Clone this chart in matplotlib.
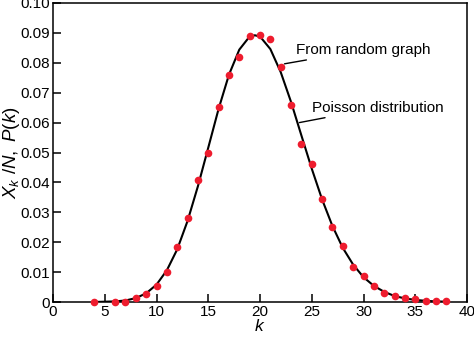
import matplotlib
matplotlib.use("Agg")
import matplotlib.pyplot as plt

plt.rcParams['font.family'] = ['Liberation Sans', 'DejaVu Sans']
plt.rcParams['mathtext.fontset'] = 'custom'
plt.rcParams['mathtext.rm'] = 'Liberation Sans'
plt.rcParams['mathtext.it'] = 'Liberation Sans:italic'

# simulated degree fractions X_k/N from the random graph
k_sim = [4, 6, 7, 8, 9, 10, 11, 12, 13, 14, 15, 16, 17, 18, 19, 20, 21,
         22, 23, 24, 25, 26, 27, 28, 29, 30, 31, 32, 33, 34, 35, 36, 37, 38]
x_sim = [0.0001, 0.0001, 0.0001, 0.0014, 0.0028, 0.0054, 0.0100, 0.0185,
         0.0281, 0.0408, 0.0500, 0.0652, 0.0759, 0.0820, 0.0891, 0.0894,
         0.0879, 0.0787, 0.0659, 0.0529, 0.0460, 0.0346, 0.0252, 0.0187,
         0.0118, 0.0088, 0.0054, 0.0031, 0.0020, 0.0012, 0.0009, 0.0003,
         0.0003, 0.0003]

# Poisson P(k), mean 20
k_pois = [4, 5, 6, 7, 8, 9, 10, 11, 12, 13, 14, 15, 16, 17, 18, 19, 19.5,
          20, 21, 22, 23, 24, 25, 26, 27, 28, 29, 30, 31, 32, 33, 34, 35,
          36, 37, 38]
p_pois = [0.0000, 0.0001, 0.0002, 0.0005, 0.0013, 0.0029, 0.0058, 0.0106,
          0.0176, 0.0271, 0.0387, 0.0516, 0.0646, 0.0760, 0.0844, 0.0888,
          0.0892, 0.0888, 0.0846, 0.0769, 0.0669, 0.0557, 0.0446, 0.0343,
          0.0254, 0.0181, 0.0125, 0.0083, 0.0054, 0.0034, 0.0020, 0.0012,
          0.0007, 0.0004, 0.0002, 0.0001]

x_ticks = [0, 5, 10, 15, 20, 25, 30, 35, 40]
y_ticks = [0, 0.01, 0.02, 0.03, 0.04, 0.05, 0.06, 0.07, 0.08, 0.09, 0.10]
y_labels = ['0', '0.01', '0.02', '0.03', '0.04', '0.05', '0.06', '0.07',
            '0.08', '0.09', '0.10']

fig = plt.figure(figsize=(4.74, 3.39), dpi=100)
ax = fig.add_axes([53 / 474, 37 / 339, 414 / 474, 299 / 339])

ax.plot(k_pois, p_pois, color='black', lw=1.5, zorder=2)
ax.plot(k_sim, x_sim, 'o', color='#ee1c2e', ms=5.5, mec='none', zorder=3,
        clip_on=False)

ax.set_xlim(0, 40)
ax.set_ylim(0, 0.1)
ax.set_xticks(x_ticks)
ax.set_yticks(y_ticks)
ax.set_yticklabels(y_labels)
ax.tick_params(direction='in', length=6, width=1.1, labelsize=11,
               top=False, right=False, pad=2.5)
for s in ax.spines.values():
    s.set_linewidth(1.1)

ax.set_xlabel('$k$', fontsize=12.5)
ax.xaxis.set_label_coords(0.5, -0.055)
ax.set_ylabel('$X_k\\ /N,\\ P(k)$', fontsize=13.5)
ax.yaxis.set_label_coords(-0.074, 0.5)

ax.annotate('From random graph', xy=(22.1, 0.0795), xytext=(23.5, 0.0843),
            fontsize=11, va='center', ha='left',
            arrowprops=dict(arrowstyle='-', color='black', lw=1.0,
                            shrinkA=1, shrinkB=2))
ax.annotate('Poisson distribution', xy=(23.8, 0.0600),
            xytext=(25.0, 0.0650), fontsize=11, va='center', ha='left',
            arrowprops=dict(arrowstyle='-', color='black', lw=1.0,
                            shrinkA=1, shrinkB=0))

fig.savefig('out.png', dpi=100)
